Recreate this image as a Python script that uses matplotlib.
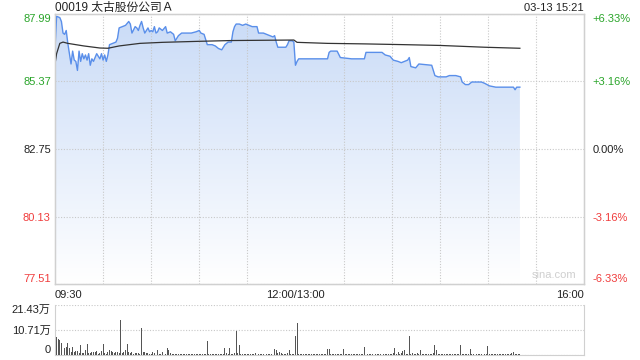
import numpy as np
import matplotlib
matplotlib.use("Agg")
import matplotlib.pyplot as plt
from matplotlib.colors import LinearSegmentedColormap

plt.rcParams['font.family'] = ['Liberation Sans', 'Noto Sans CJK SC', 'DejaVu Sans']

title = "00019 太古股份公司Ａ"
stamp = "03-13 15:21"
prev_close = 82.75
y_lo, y_hi = 77.51, 87.99
left_ticks = [77.51, 80.13, 82.75, 85.37, 87.99]
left_labels = ["77.51", "80.13", "82.75", "85.37", "87.99"]
right_labels = ["-6.33%", "-3.16%", "0.00%", "+3.16%", "+6.33%"]
tick_colors = ["#f03c3c", "#f03c3c", "#222222", "#2aa52a", "#2aa52a"]
x_ticks = [0, 150, 330]
x_labels = ["09:30", "12:00/13:00", "16:00"]

# minutes since 09:30 (lunch break removed), price
price_t = [0, 1, 3, 4, 5, 6, 7, 8, 9, 10, 11, 12, 13, 14, 15, 16, 17, 18, 19, 20,
           21, 22, 23, 24, 26, 28, 29, 30, 31, 32, 33, 34, 36, 38, 39, 40, 42, 44, 46, 47,
           48, 50, 51, 52, 53, 54, 55, 56, 57, 58, 59, 60, 61, 62, 63, 64, 65, 67, 69, 70,
           72, 74, 75, 77, 79, 85, 88, 90, 91, 93, 94, 95, 98, 100, 102, 104, 105, 106, 108, 110,
           111, 112, 113, 115, 117, 119, 121, 123, 126, 127, 130, 132, 134, 136, 137, 138, 139, 144, 145, 146,
           148, 149, 150, 151, 152, 165, 170, 171, 172, 176, 178, 185, 193, 194, 204, 206, 209, 211, 214, 216,
           218, 220, 221, 222, 225, 227, 235, 237, 239, 244, 246, 250, 253, 254, 256, 258, 260, 266, 268, 271,
           275, 286, 287, 288, 290]
price = [86.65, 87.90, 87.85, 87.70, 87.25, 87.20, 87.35, 86.85, 86.45, 86.05, 86.55, 86.20, 86.15, 85.80, 86.55, 86.15, 86.45, 86.25, 86.40, 86.20,
         86.45, 86.00, 86.25, 86.15, 86.45, 86.25, 86.45, 86.20, 86.40, 86.15, 86.40, 86.80, 86.85, 86.90, 87.05, 87.45, 87.50, 87.55, 87.70, 87.60,
         87.25, 87.50, 87.45, 87.35, 87.55, 87.70, 87.45, 87.25, 87.35, 87.45, 87.30, 87.35, 87.30, 87.50, 87.25, 87.30, 87.45, 87.35, 87.50, 87.25,
         87.30, 87.20, 86.95, 87.15, 87.25, 87.25, 87.30, 87.35, 87.25, 87.20, 87.00, 86.80, 86.80, 86.75, 86.65, 86.60, 86.70, 86.80, 86.90, 86.90,
         87.30, 87.50, 87.60, 87.60, 87.55, 87.60, 87.55, 87.50, 87.50, 87.25, 87.25, 87.20, 87.15, 87.10, 87.15, 86.90, 86.70, 86.70, 86.80, 86.95,
         86.95, 86.90, 86.00, 86.15, 86.25, 86.25, 86.25, 86.50, 86.55, 86.55, 86.30, 86.25, 86.25, 86.50, 86.50, 86.40, 86.35, 86.20, 86.15, 86.10,
         86.15, 86.20, 86.30, 85.95, 85.90, 86.05, 86.00, 85.60, 85.55, 85.55, 85.60, 85.60, 85.55, 85.35, 85.25, 85.25, 85.35, 85.35, 85.30, 85.20,
         85.15, 85.15, 85.05, 85.15, 85.15]

avg_t = [0, 1, 3, 5, 8, 18, 28, 33, 40, 53, 67, 90, 110, 130, 149, 151, 170, 193, 218, 240, 268, 290]
avg_price = [86.05, 86.45, 86.85, 86.90, 86.85, 86.75, 86.67, 86.66, 86.75, 86.85, 86.89, 86.93, 86.96, 86.97, 86.98,
             86.89, 86.85, 86.83, 86.80, 86.77, 86.70, 86.66]

# volume per minute, in 万
volume = [21.4, 7.6, 6.9, 6.4, 5.0, 2.1, 2.9, 3.6, 5.3, 2.9,
          1.4, 3.6, 1.4, 1.7, 1.9, 1.0, 4.3, 0.7, 1.0, 2.1,
          4.7, 0.7, 1.0, 1.1, 1.4, 1.1, 1.7, 0.4, 0.7, 1.7,
          4.7, 0.7, 0.4, 1.4, 2.1, 1.7, 1.4, 0.7, 1.1, 1.4,
          0.7, 15.0, 0.7, 1.4, 2.1, 4.7, 1.4, 1.0, 1.4, 0.4,
          0.7, 1.0, 0.7, 0.5, 11.6, 1.4, 1.1, 1.0, 0.7, 0.4,
          0.5, 1.1, 0.7, 0.4, 2.1, 0.4, 0.6, 1.4, 0.7, 0.5,
          2.9, 2.1, 0.7, 0.4, 0.5, 0.3, 0.4, 0.3, 0.5, 0.3,
          0.4, 0.3, 0.3, 0.5, 0.4, 0.3, 0.4, 0.5, 0.3, 0.4,
          0.3, 0.5, 0.4, 0.3, 0.6, 6.1, 0.5, 0.4, 0.3, 0.4,
          0.5, 0.3, 0.4, 0.3, 0.5, 0.6, 2.9, 0.7, 0.4, 2.9,
          0.6, 0.4, 0.7, 10.4, 0.7, 4.3, 0.5, 0.4, 0.3, 0.5,
          0.4, 0.6, 0.3, 0.5, 0.4, 0.7, 0.3, 0.5, 0.4, 0.6,
          0.3, 0.5, 0.4, 0.3, 0.6, 0.4, 0.5, 2.6, 2.1, 0.7,
          1.4, 0.7, 0.4, 0.6, 0.5, 0.7, 2.1, 0.5, 0.4, 0.6,
          8.1, 13.6, 0.4, 0.5, 0.3, 0.4, 0.5, 0.3, 0.6, 0.4,
          0.5, 0.3, 0.4, 0.6, 0.5, 0.4, 0.3, 0.5, 0.4, 0.6,
          2.4, 2.4, 0.4, 0.5, 0.3, 0.4, 0.5, 0.4, 0.6, 0.5,
          2.4, 0.5, 0.4, 0.3, 0.5, 0.4, 0.3, 0.5, 0.4, 0.3,
          0.5, 0.4, 0.6, 3.3, 3.3, 0.5, 0.4, 0.3, 0.5, 0.4,
          0.3, 0.5, 0.4, 0.3, 0.5, 0.4, 0.3, 0.5, 0.6, 0.4,
          0.5, 0.7, 2.9, 0.4, 1.1, 0.5, 0.7, 1.7, 2.1, 0.6,
          0.4, 8.1, 0.5, 0.7, 0.4, 0.6, 1.0, 0.5, 2.1, 0.6,
          0.4, 0.5, 0.3, 0.6, 0.4, 0.5, 0.7, 4.3, 2.1, 0.5,
          0.4, 0.3, 0.5, 0.6, 0.4, 0.5, 0.3, 0.4, 0.5, 0.6,
          0.4, 0.3, 0.5, 4.3, 0.6, 0.4, 0.5, 0.3, 0.6, 2.4,
          0.5, 0.4, 0.3, 0.5, 0.4, 0.6, 0.3, 0.5, 0.4, 0.6,
          3.9, 0.5, 0.4, 0.6, 0.5, 0.3, 0.4, 0.5, 0.6, 0.4,
          0.3, 0.5, 0.4, 0.6, 0.5, 0.7, 1.1, 0.5, 0.4, 0.6, 0.5]
vol_ticks = [0, 10.71, 21.43]
vol_labels = ["0", "10.71万", "21.43万"]

grid_c = "#c8c8c8"
border_c = "#d0d0d0"

fig = plt.figure(figsize=(6.4, 3.6), dpi=100)
ax = fig.add_axes([55/640, 1-284/360, 529/640, 270/360])
ax.set_xlim(0, 330)
ax.set_ylim(y_lo, y_hi)

# gradient area under price line
fill = ax.fill_between(price_t, price, y_lo, color="none")
cmap = LinearSegmentedColormap.from_list("g", ["#ffffff", "#c9dbf7"])
grad = np.linspace(0, 1, 256).reshape(-1, 1)
im = ax.imshow(grad, cmap=cmap, aspect="auto", origin="lower",
               extent=[0, 330, y_lo, y_hi], zorder=1)
im.set_clip_path(fill.get_paths()[0], transform=ax.transData)

ax.plot(price_t, price, color="#5a8fea", lw=1.0, zorder=3)
ax.plot(avg_t, avg_price, color="#333333", lw=0.9, zorder=3)

ax.set_yticks(left_ticks)
ax.set_yticklabels(left_labels)
for lab, c, i in zip(ax.get_yticklabels(), tick_colors, range(5)):
    lab.set_color(c)
    if i == 0:
        lab.set_va("bottom")
    elif i == 4:
        lab.set_va("top")
ax.set_xticks(x_ticks)
ax.set_xticklabels(x_labels)
for lab, ha in zip(ax.get_xticklabels(), ["left", "center", "right"]):
    lab.set_ha(ha)
ax.set_xticks(range(30, 330, 30), minor=True)
ax.tick_params(axis="both", which="both", length=0, labelsize=8)
ax.tick_params(axis="y", pad=3)
ax.tick_params(axis="x", pad=4, colors="#222222")
ax.grid(True, which="minor", axis="x", color=grid_c, ls=(0, (1, 1.5)), lw=0.8)
ax.grid(True, which="major", axis="y", color=grid_c, ls=(0, (1, 1.5)), lw=0.8)
for s in ax.spines.values():
    s.set_color(border_c)
    s.set_linewidth(1.0)

ax2 = ax.twinx()
ax2.set_ylim(y_lo, y_hi)
ax2.set_yticks(left_ticks)
ax2.set_yticklabels(right_labels)
for lab, c, i in zip(ax2.get_yticklabels(), tick_colors, range(5)):
    lab.set_color(c)
    if i == 0:
        lab.set_va("bottom")
    elif i == 4:
        lab.set_va("top")
ax2.tick_params(axis="y", length=0, labelsize=8, pad=6)
for s in ax2.spines.values():
    s.set_color(border_c)

fig.text(55/640, 1-8/360, title, fontsize=8.5, ha="left", va="center", color="#222222")
fig.text(584/640, 1-8/360, stamp, fontsize=8, ha="right", va="center", color="#222222")
ax.text(0.985, 0.015, "sina.com", transform=ax.transAxes, ha="right", va="bottom",
        fontsize=8, color="#cfcfcf")

# volume panel
axv = fig.add_axes([55/640, 1-355/360, 529/640, 50/360])
axv.bar(range(len(volume)), volume, width=0.6, color="#555555", zorder=3)
axv.set_xlim(0, 330)
axv.set_ylim(0, 21.43)
axv.set_yticks(vol_ticks)
axv.set_yticklabels(vol_labels)
vl = axv.get_yticklabels()
vl[0].set_va("bottom")
vl[2].set_va("top")
axv.set_xticks([])
axv.tick_params(axis="y", length=0, labelsize=8, pad=3, colors="#222222")
axv.grid(True, axis="y", color=grid_c, ls=(0, (1, 1.5)), lw=0.8)
axv.spines["top"].set_visible(False)
for k in ["left", "right", "bottom"]:
    axv.spines[k].set_color(border_c)

fig.savefig("out.png", dpi=100)
